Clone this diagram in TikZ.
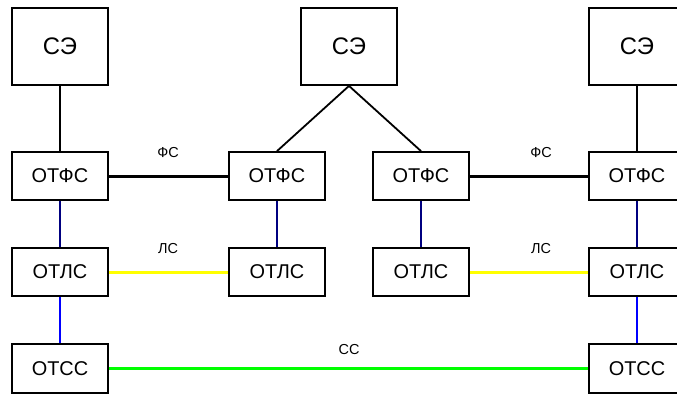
\documentclass[tikz,border=0pt]{standalone}
\usepackage{fontspec}
\setmainfont{Liberation Sans}
\definecolor{navyline}{RGB}{0,0,128}
\definecolor{blueline}{RGB}{0,0,255}
\definecolor{yellowline}{RGB}{255,255,0}
\definecolor{greenline}{RGB}{0,255,0}
\begin{document}
\begin{tikzpicture}[x=1bp,y=-1bp,
  box/.style={draw=black,line width=1.8bp,fill=white,inner sep=0pt,minimum width=96bp,minimum height=48bp,font=\fontsize{20}{24}\selectfont},
  sebox/.style={box,minimum height=77bp,font=\fontsize{24}{28}\selectfont},
  ssbox/.style={box,minimum height=49bp},
  lbl/.style={inner sep=0pt,font=\fontsize{14.5}{16}\selectfont},
  thin/.style={line width=1.8bp,black},
  fs/.style={line width=3bp,black},
  ls/.style={line width=3bp,yellowline},
  ss/.style={line width=3bp,greenline},
  vnavy/.style={line width=1.8bp,navyline},
  vblue/.style={line width=1.8bp,blueline}]
\useasboundingbox (0,0) rectangle (677,394);
\fill[white] (0,0) rectangle (677,394);
% left column
\node[sebox] (seL) at (60,46.5) {СЭ};
\node[box] (fL) at (60,176) {ОТФС};
\node[box] (lL) at (60,272) {ОТЛС};
\node[ssbox] (sL) at (60,368.5) {ОТСС};
% middle
\node[sebox] (seM) at (349,46.5) {СЭ};
\node[box] (fM1) at (277,176) {ОТФС};
\node[box] (lM1) at (277,272) {ОТЛС};
\node[box] (fM2) at (421,176) {ОТФС};
\node[box] (lM2) at (421,272) {ОТЛС};
% right column
\node[sebox] (seR) at (637,46.5) {СЭ};
\node[box] (fR) at (637,176) {ОТФС};
\node[box] (lR) at (637,272) {ОТЛС};
\node[ssbox] (sR) at (637,368.5) {ОТСС};
% connectors
\draw[thin] (seL) -- (fL);
\draw[thin] (seR) -- (fR);
\draw[thin] (seM.south) -- (fM1.north);
\draw[thin] (seM.south) -- (fM2.north);
\draw[fs] (fL) -- (fM1);
\draw[fs] (fM2) -- (fR);
\draw[vnavy] (fL) -- (lL);
\draw[vnavy] (fM1) -- (lM1);
\draw[vnavy] (fM2) -- (lM2);
\draw[vnavy] (fR) -- (lR);
\draw[ls] (lL) -- (lM1);
\draw[ls] (lM2) -- (lR);
\draw[vblue] (lL) -- (sL);
\draw[vblue] (lR) -- (sR);
\draw[ss] (sL) -- (sR);
% labels
\node[lbl] (tfs1) at (168,153) {ФС};
\node[lbl] (tfs2) at (541,153) {ФС};
\node[lbl] (tls1) at (168,249) {ЛС};
\node[lbl] (tls2) at (541,249) {ЛС};
\node[lbl] (tss) at (349,350) {СС};
\end{tikzpicture}
\end{document}
